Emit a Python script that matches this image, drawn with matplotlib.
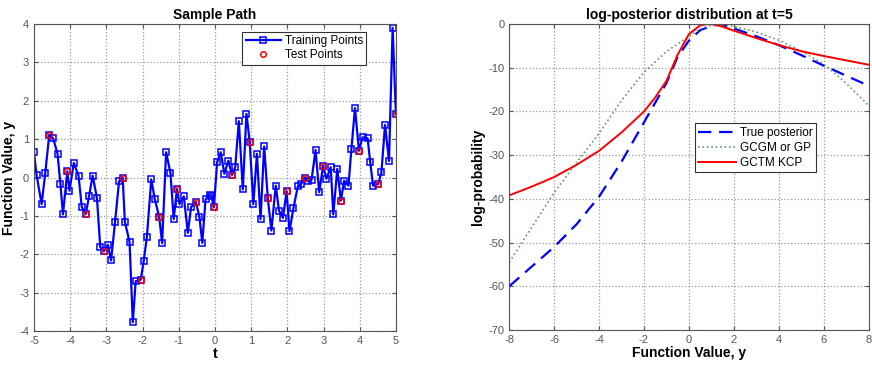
import numpy as np
import matplotlib
matplotlib.use("Agg")
import matplotlib.pyplot as plt

plt.rcParams['font.family'] = ['Liberation Sans', 'DejaVu Sans']
plt.rcParams['axes.unicode_minus'] = False

# ---- left panel: sample path ----
t_path = [-5.00, -4.93, -4.79, -4.69, -4.58, -4.47, -4.35, -4.27, -4.20, -4.08,
          -4.02, -3.90, -3.77, -3.68, -3.57, -3.48, -3.38, -3.26, -3.17, -3.07,
          -2.96, -2.87, -2.76, -2.65, -2.55, -2.49, -2.36, -2.27, -2.19, -2.05,
          -1.97, -1.88, -1.76, -1.66, -1.54, -1.46, -1.35, -1.23, -1.14, -1.05,
          -0.98, -0.86, -0.75, -0.66, -0.53, -0.43, -0.35, -0.26, -0.15, -0.10,
          -0.03, 0.06, 0.16, 0.26, 0.37, 0.47, 0.56, 0.66, 0.77, 0.87,
          0.96, 1.06, 1.16, 1.26, 1.36, 1.46, 1.56, 1.68, 1.77, 1.88,
          1.98, 2.06, 2.17, 2.29, 2.37, 2.48, 2.58, 2.67, 2.78, 2.88,
          2.99, 3.08, 3.20, 3.27, 3.38, 3.48, 3.57, 3.69, 3.77, 3.87,
          3.98, 4.08, 4.22, 4.29, 4.37, 4.51, 4.60, 4.70, 4.81, 4.91, 5.00]
y_path = [0.66, 0.07, -0.69, 0.11, 1.11, 1.02, 0.62, -0.17, -0.96, 0.16,
          -0.34, 0.38, 0.05, -0.77, -0.95, -0.49, 0.05, -0.54, -1.81, -1.92,
          -1.75, -2.16, -1.15, -0.10, 0.00, -1.15, -1.68, -3.77, -2.70, -2.66,
          -2.18, -1.54, -0.05, -0.57, -1.03, -1.71, 0.66, 0.12, -1.08, -0.30,
          -0.69, -0.49, -1.44, -0.77, -0.63, -1.02, -1.70, -0.57, -0.45, -0.47,
          -0.77, 0.40, 0.66, 0.10, 0.44, 0.07, 0.27, 1.47, -0.31, 1.66,
          0.94, -0.69, 0.62, -1.08, 0.81, -0.54, -1.38, -0.21, -0.86, -1.05,
          -0.36, -1.40, -0.79, -0.23, -0.18, 0.00, -0.10, -0.06, 0.72, -0.38,
          0.31, -0.03, 0.27, -0.96, 0.23, -0.60, -0.08, -0.21, 0.74, 1.81,
          0.70, 1.05, 1.02, 0.40, -0.21, -0.17, 0.14, 1.37, 0.43, 3.90, 1.66]
test_idx = [4, 9, 14, 19, 24, 29, 34, 39, 44, 50, 55, 60, 65, 70, 75, 80, 85, 90, 95, 100]

# ---- right panel: log-posterior ----
yv_true = [-8, -7, -6, -5, -4, -3, -2, -1.5, -1, -0.5, 0, 0.5, 1, 1.4, 2, 3, 4, 5, 6, 7, 8]
lp_true = [-60, -55.5, -51, -45.8, -39.5, -31.5, -22.5, -18, -13.5, -7.5, -3.8, -1.4, -0.4, 0,
           -1.0, -2.8, -4.8, -7.1, -9.5, -11.8, -14.1]
yv_gp = [-8, -7, -6, -5, -4, -3, -2, -1, 0, 0.5, 1, 1.3, 2, 3, 4, 5, 6, 7, 8]
lp_gp = [-54.5, -46.5, -38.6, -31.7, -25, -17.5, -11, -6.3, -2.8, -1.2, -0.2, 0,
         -0.5, -1.8, -3.7, -6.2, -9.1, -13.5, -18.6]
yv_kcp = [-8, -7, -6, -5, -4, -3, -2, -1.5, -1, -0.5, 0, 0.5, 0.8, 1, 1.5, 2, 3, 4, 5, 6, 7, 8]
lp_kcp = [-39.2, -37.2, -35, -32.2, -29, -24.8, -20, -16.8, -13, -7, -2.3, -0.3, 0, 0,
          -0.6, -1.5, -3.2, -4.8, -6.2, -7.3, -8.3, -9.3]

tick_col = '#555555'


def style(ax):
    ax.grid(True, linestyle=':', color='#999999', linewidth=0.9)
    ax.tick_params(direction='in', top=True, right=True, labelsize=8,
                   labelcolor=tick_col, color='#555555', length=3)
    for s in ax.spines.values():
        s.set_color('#555555')


fig = plt.figure(figsize=(8.72, 3.65), dpi=100)

ax1 = fig.add_axes([0.039, 0.093, 0.415, 0.841])
t_arr = np.array(t_path)
y_arr = np.array(y_path)
ax1.plot(t_arr, y_arr, '-s', color='#0000ff', lw=1.6, ms=5, mfc='none', mew=1.1,
         label='Training Points')
ax1.plot(t_arr[test_idx], y_arr[test_idx], 'o', ls='none', color='#ff0000', ms=4,
         mfc='none', mew=1.1, label='Test Points')
ax1.set_xlim(-5, 5)
ax1.set_ylim(-4, 4)
ax1.set_xticks(np.arange(-5, 6, 1))
ax1.set_yticks(np.arange(-4, 5, 1))
style(ax1)
ax1.set_title('Sample Path', fontsize=10, fontweight='bold', pad=4)
ax1.set_xlabel('t', fontsize=10.5, fontweight='bold', labelpad=1)
ax1.set_ylabel('Function Value, y', fontsize=10, fontweight='bold', labelpad=2)
leg1 = ax1.legend(loc='upper right', bbox_to_anchor=(0.935, 0.995), fontsize=8.5,
                  fancybox=False, edgecolor='#333333', framealpha=1,
                  borderpad=0.3, labelspacing=0.2, handlelength=3.0, handletextpad=0.3)
leg1.get_frame().set_linewidth(0.8)

ax2 = fig.add_axes([0.584, 0.096, 0.412, 0.838])
ax2.plot(yv_true, lp_true, '--', color='#0000ff', lw=1.6, dashes=(6, 3.5),
         label='True posterior')
ax2.plot(yv_gp, lp_gp, ':', color='#5f9f5f', lw=1.2, label='GCGM or GP')
ax2.plot(yv_kcp, lp_kcp, '-', color='#ff0000', lw=1.4, label='GCTM KCP')
ax2.set_xlim(-8, 8)
ax2.set_ylim(-70, 0)
ax2.set_xticks(np.arange(-8, 9, 2))
ax2.set_yticks(np.arange(-70, 1, 10))
style(ax2)
ax2.set_title('log-posterior distribution at t=5', fontsize=10, fontweight='bold', pad=4)
ax2.set_xlabel('Function Value, y', fontsize=10, fontweight='bold', labelpad=1)
ax2.set_ylabel('log-probability', fontsize=10, fontweight='bold', labelpad=2)
leg2 = ax2.legend(loc='upper left', bbox_to_anchor=(0.50, 0.695), fontsize=8.5,
                  fancybox=False, edgecolor='#333333', framealpha=1,
                  borderpad=0.3, labelspacing=0.25, handlelength=3.2, handletextpad=0.3)
leg2.get_frame().set_linewidth(0.8)

fig.savefig('out.png', dpi=100)
